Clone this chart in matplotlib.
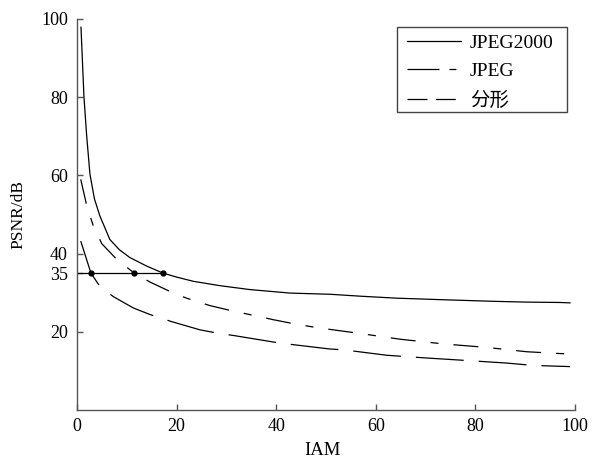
import matplotlib
matplotlib.use("Agg")
import matplotlib.pyplot as plt
from matplotlib.lines import Line2D
from matplotlib.patches import Rectangle

plt.rcParams['font.family'] = ['Liberation Serif', 'Noto Sans CJK SC', 'DejaVu Sans']
plt.rcParams['lines.scale_dashes'] = False

# ---- data ----
x_j2k = [0.8, 1.4, 1.95, 2.6, 3.5, 4.6, 6.6, 8.5, 10.6, 14, 17.3, 20, 23.4, 28.7,
         34.7, 42.8, 50.8, 57, 64.2, 73.5, 83.6, 90, 97, 99]
y_j2k = [97.9, 80, 70, 60.3, 54, 49.6, 43.6, 41, 39, 36.8, 35, 34.0, 32.9, 31.8,
         30.8, 29.9, 29.6, 29.1, 28.6, 28.2, 27.8, 27.6, 27.5, 27.4]

x_jpeg = [0.75, 2, 3.3, 5, 8, 11.5, 14.7, 18.7, 22, 26.7, 31, 34.7, 39.4, 43.8,
          48, 56.1, 64.9, 73.6, 82.3, 90.3, 99]
y_jpeg = [59, 52, 47, 42.5, 38.5, 35, 32.7, 30.3, 28.6, 26.7, 25.4, 24.4, 23.1, 22,
          21.1, 19.7, 18.1, 16.9, 16, 14.9, 14.3]

x_frac = [0.75, 1.8, 2.8, 4.6, 7.3, 11.3, 14.7, 19, 24.7, 28, 31.7, 40.8, 44.8,
          50.8, 53.5, 62.2, 70.2, 79, 86.3, 91.6, 99]
y_frac = [43.2, 39, 35, 31.6, 29, 26.1, 24.4, 22.6, 20.5, 19.7, 19, 17.1, 16.5,
          15.6, 15.4, 14, 13.3, 12.6, 12, 11.4, 11.1]

ref_level = 35
ref_x = [2.8, 11.5, 17.3]
labels = ['JPEG2000', 'JPEG', '分形']
xticks = [0, 20, 40, 60, 80, 100]
yticks = [20, 35, 40, 60, 80, 100]

# ---- figure ----
fig = plt.figure(figsize=(6.04, 4.58), dpi=100)
ax = fig.add_axes([77/604, 1-410/458, (575-77)/604, (410-19)/458])

lw = 0.9
ax.plot(x_j2k, y_j2k, color='black', lw=lw)
ax.plot(x_jpeg, y_jpeg, color='black', lw=lw, dashes=(18, 10.8, 5.8, 10.8))
ax.plot(x_frac, y_frac, color='black', lw=lw, dashes=(34.5, 10.8))

ax.plot([0, ref_x[-1]], [ref_level, ref_level], color='black', lw=lw)
ax.plot(ref_x, [ref_level]*len(ref_x), 'o', color='black', ms=3.5)

ax.set_xlim(0, 100)
ax.set_ylim(0, 100)
ax.set_xticks(xticks)
ax.set_yticks(yticks)
ax.tick_params(direction='in', length=4, width=1, colors='#555555',
               labelcolor='black', labelsize=13)
ax.tick_params(axis='x', pad=6)
ax.tick_params(axis='y', pad=6.5)
for s in ['top', 'right']:
    ax.spines[s].set_visible(False)
for s in ['left', 'bottom']:
    ax.spines[s].set_color('#555555')
    ax.spines[s].set_linewidth(1)

ax.set_xlabel('IAM', fontsize=13.5)
ax.set_ylabel('PSNR/dB', fontsize=12.5)
ax.xaxis.set_label_coords(0.494, -0.081)
ax.yaxis.set_label_coords(-0.101, 0.5)

handles = [
    Line2D([], [], color='black', lw=lw),
    Line2D([], [], color='black', lw=lw, dashes=(23, 7.2, 5, 7.2)),
    Line2D([], [], color='black', lw=lw, dashes=(14.4, 6, 14.4, 6)),
]
ax.add_patch(Rectangle((0.6426, 0.762), 0.984 - 0.6426, 0.9795 - 0.762,
                       transform=ax.transAxes, fill=False, edgecolor='#444444',
                       lw=1, zorder=5, clip_on=False))
leg = ax.legend(handles, labels, loc='upper left',
                bbox_to_anchor=((407 - 77) / 498, (410 - 34) / 391),
                borderaxespad=0, borderpad=0, frameon=False, fontsize=14,
                handlelength=2.78, handletextpad=0.46, labelspacing=0.57)

fig.savefig('out.png', dpi=100)
